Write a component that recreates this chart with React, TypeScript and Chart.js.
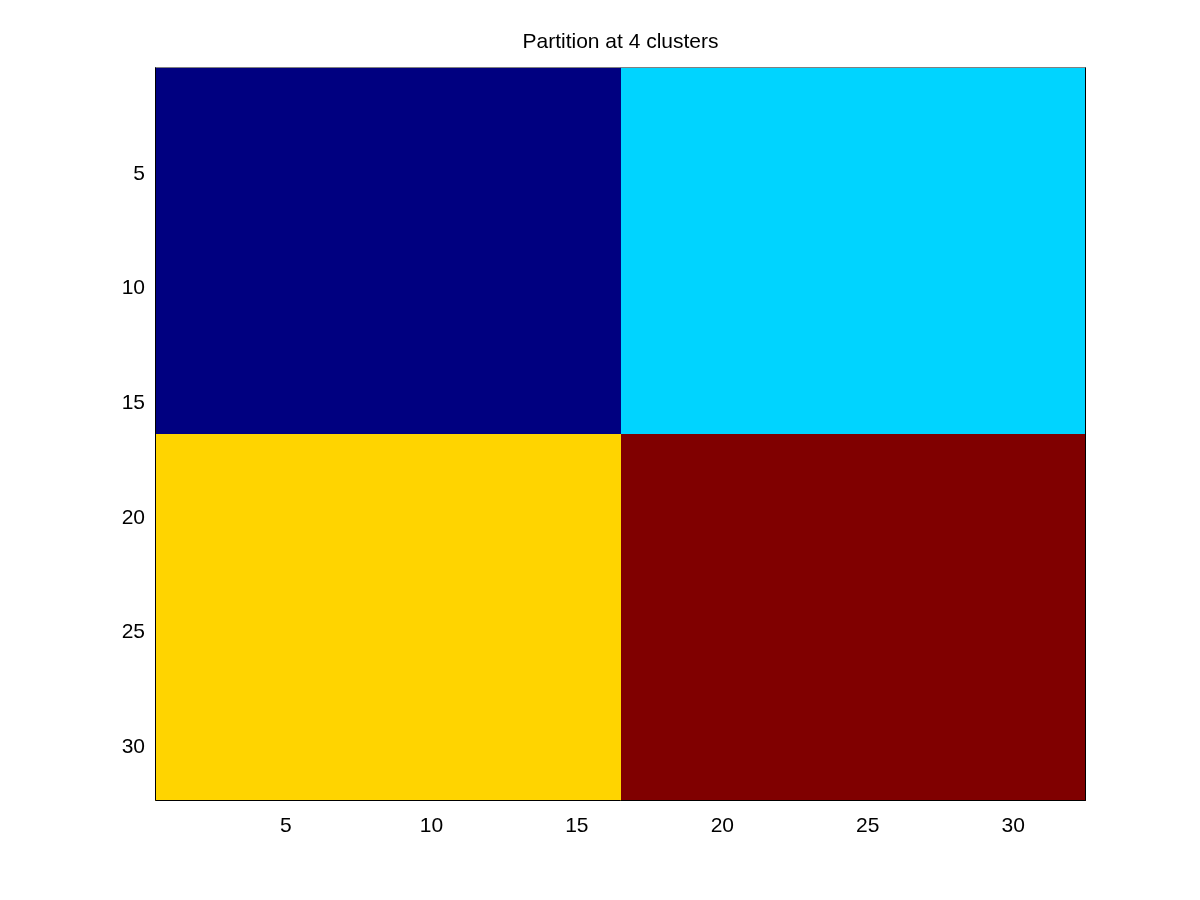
import React, { useEffect, useRef } from "react";
import { Chart, registerables } from "chart.js";

Chart.register(...registerables);

const titleText = "Partition at 4 clusters";
const tickValues = [5, 10, 15, 20, 25, 30];
// cluster block index of each row (1..32) and each column (1..32)
const rowClusters = [0, 0, 0, 0, 0, 0, 0, 0, 0, 0, 0, 0, 0, 0, 0, 0, 1, 1, 1, 1, 1, 1, 1, 1, 1, 1, 1, 1, 1, 1, 1, 1];
const colClusters = [0, 0, 0, 0, 0, 0, 0, 0, 0, 0, 0, 0, 0, 0, 0, 0, 1, 1, 1, 1, 1, 1, 1, 1, 1, 1, 1, 1, 1, 1, 1, 1];
// partition value of each block (row block x column block)
const blockValues = [
  [1, 2],
  [3, 4],
];
const valueColors: Record<number, string> = {
  1: "#000080",
  2: "#00D4FF",
  3: "#FFD400",
  4: "#800000",
};

const FONT = "'Liberation Sans', Arial, Helvetica, sans-serif";

const heatmapPlugin = {
  id: "heatmapCells",
  beforeDatasetsDraw(chart: any) {
    const { ctx, scales, chartArea } = chart;
    const xs = scales.x;
    const ys = scales.y;
    ctx.save();
    ctx.beginPath();
    ctx.rect(chartArea.left, chartArea.top, chartArea.right - chartArea.left, chartArea.bottom - chartArea.top);
    ctx.clip();
    for (let r = 0; r < rowClusters.length; r++) {
      for (let c = 0; c < colClusters.length; c++) {
        const v = blockValues[rowClusters[r]][colClusters[c]];
        const x0 = Math.round(xs.getPixelForValue(c + 0.5));
        const x1 = Math.round(xs.getPixelForValue(c + 1.5));
        const y0 = Math.round(ys.getPixelForValue(r + 0.5));
        const y1 = Math.round(ys.getPixelForValue(r + 1.5));
        ctx.fillStyle = valueColors[v];
        ctx.fillRect(Math.min(x0, x1), Math.min(y0, y1), Math.abs(x1 - x0), Math.abs(y1 - y0));
      }
    }
    ctx.restore();
  },
  afterDatasetsDraw(chart: any) {
    const { ctx, chartArea } = chart;
    const l = Math.round(chartArea.left) + 0.5;
    const r = Math.round(chartArea.right) - 0.5;
    const t = Math.round(chartArea.top) + 0.5;
    const b = Math.round(chartArea.bottom) - 0.5;
    ctx.save();
    ctx.lineWidth = 1;
    ctx.strokeStyle = "#808080";
    ctx.beginPath();
    ctx.moveTo(l, t);
    ctx.lineTo(r, t);
    ctx.stroke();
    ctx.strokeStyle = "#000000";
    ctx.beginPath();
    ctx.moveTo(r, t);
    ctx.lineTo(r, b);
    ctx.lineTo(l, b);
    ctx.lineTo(l, t);
    ctx.stroke();
    ctx.restore();
  },
};

export default function App() {
  const canvasRef = useRef<HTMLCanvasElement | null>(null);

  useEffect(() => {
    if (!canvasRef.current) return;
    const chart = new Chart(canvasRef.current, {
      type: "scatter",
      data: { datasets: [{ data: [] }] },
      options: {
        animation: false,
        responsive: true,
        maintainAspectRatio: false,
        layout: { padding: { left: 0, right: 114, top: 0, bottom: 0 } },
        plugins: {
          legend: { display: false },
          tooltip: { enabled: false },
          title: {
            display: true,
            text: titleText,
            fullSize: false,
            color: "#000000",
            font: { family: FONT, size: 21, weight: "normal" },
            padding: { top: 30, bottom: 12 },
          },
        },
        scales: {
          x: {
            type: "linear",
            min: 0.5,
            max: 32.5,
            grid: { display: false, drawTicks: false },
            border: { display: false },
            afterBuildTicks: (s: any) => {
              s.ticks = tickValues.map((v) => ({ value: v }));
            },
            afterFit: (s: any) => {
              s.height = 99;
            },
            ticks: {
              color: "#000000",
              font: { family: FONT, size: 21 },
              padding: 13,
              maxRotation: 0,
              autoSkip: false,
            },
          },
          y: {
            type: "linear",
            reverse: true,
            min: 0.5,
            max: 32.5,
            grid: { display: false, drawTicks: false },
            border: { display: false },
            afterBuildTicks: (s: any) => {
              s.ticks = tickValues.map((v) => ({ value: v }));
            },
            afterFit: (s: any) => {
              s.width = 155;
            },
            ticks: {
              color: "#000000",
              font: { family: FONT, size: 21, lineHeight: "7px" },
              padding: 10,
              autoSkip: false,
              callback: (v: any) => ["", String(v)],
            },
          },
        },
      },
      plugins: [heatmapPlugin],
    } as any);
    return () => chart.destroy();
  }, []);

  return (
    <div style={{ position: "fixed", left: 0, top: 0, width: 1200, height: 900, background: "#ffffff" }}>
      <canvas ref={canvasRef} />
    </div>
  );
}
